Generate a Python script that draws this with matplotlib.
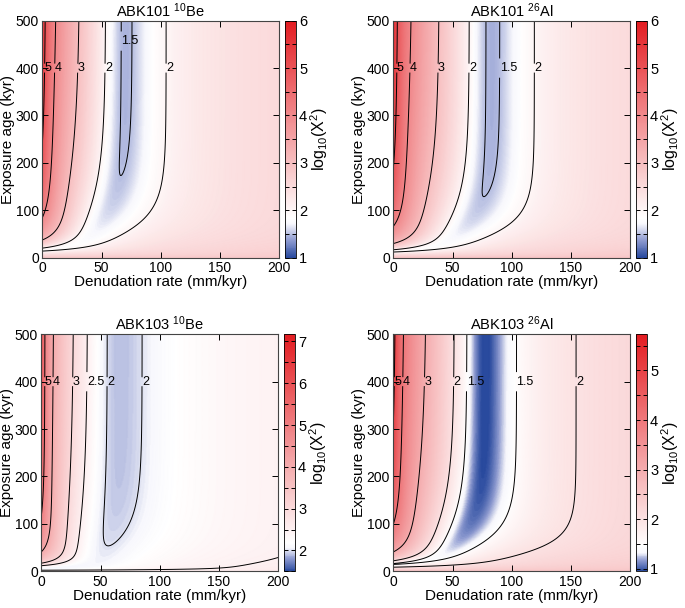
import numpy as np
import matplotlib
matplotlib.use('Agg')
import matplotlib.pyplot as plt
from matplotlib.colors import LinearSegmentedColormap
from matplotlib.ticker import MultipleLocator

plt.rcParams['font.family'] = ['Liberation Sans', 'DejaVu Sans']
plt.rcParams['mathtext.fontset'] = 'custom'
plt.rcParams['mathtext.rm'] = 'Liberation Sans'
plt.rcParams['mathtext.it'] = 'Liberation Sans:italic'

# --- sample data / model parameters for each panel ---
titles = ['ABK101 $^{10}$Be', 'ABK101 $^{26}$Al', 'ABK103 $^{10}$Be', 'ABK103 $^{26}$Al']
half_life = [1387.0, 705.0, 1387.0, 705.0]      # kyr
prod_rate = [4.0, 27.0, 4.0, 27.0]              # atoms/g/yr at surface
muon_frac = [0.13, 0.13, 0.03, 0.13]
spall_len = [604.0, 604.0, 340.0, 604.0]        # mm
muon_len = 5660.0                               # mm
depths = [[0, 3000], [0, 3000], [0, 3000], [0, 3000]]               # mm
conc = [[67.0, 50.9], [380.0, 277.6], [28.0, 28.2], [407.7, 263.8]]   # 10^3 atoms/g
conc_err = [[2.64, 5.14], [13.5, 27.9], [1.35, 2.53], [21.5, 42.0]]

levels = [[1.5, 2, 3, 4, 5], [1.5, 2, 3, 4, 5], [2, 2.5, 3, 4, 5], [1.5, 2, 3, 4, 5]]
label_eps = [[2.5, 11, 27, 50, 62, 108],
             [3.4, 14.7, 37, 62, 93, 122],
             [3, 10, 27.5, 39, 56.5, 80],
             [2.5, 10, 28, 53, 65, 109, 161]]
label_age = [[400, 400, 400, 400, 457, 400], [400] * 6, [400] * 6, [400] * 7]

clims = [(1.0, 6.0), (1.0, 6.0), (1.5, 7.17), (0.95, 5.73)]
white_at = [1.8, 1.8, 2.15, 1.42]

eps = np.linspace(0, 200, 401)
age = np.linspace(0, 500, 501)
E, T = np.meshgrid(eps, age)


def predicted(P, lam, f, Ls, z):
    out = 0.0
    for frac, L in ((1 - f, Ls), (f, muon_len)):
        k = lam + E / L
        out = out + P * frac * np.exp(-z / L) * (1 - np.exp(-k * T)) / k
    return out


def make_cmap(vmin, vmax, c):
    def pos(v):
        return (v - vmin) / (vmax - vmin)
    nodes = [(0.0, (0.16, 0.29, 0.62)),
             (pos(vmin + 0.45 * (c - vmin)), (0.56, 0.61, 0.82)),
             (pos(c - 0.1), (0.97, 0.97, 0.99)),
             (pos(c + 0.03), (1.0, 1.0, 1.0)),
             (1.0, (0.89, 0.11, 0.13))]
    return LinearSegmentedColormap.from_list('bwr_custom', nodes)


W, H = 685.0, 608.0
ax_px = [(42.3, 20.7), (393.3, 20.7), (41.3, 334.3), (393.3, 334.3)]
size = 237.0

fig = plt.figure(figsize=(6.85, 6.08), dpi=100)

for i in range(4):
    lam = np.log(2) / half_life[i]
    chi2 = np.zeros_like(E)
    for z, n, s in zip(depths[i], conc[i], conc_err[i]):
        npred = predicted(prod_rate[i], lam, muon_frac[i], spall_len[i], z)
        chi2 += ((n - npred) / s) ** 2
    logx = np.log10(chi2)

    l, t = ax_px[i]
    ax = fig.add_axes([l / W, 1 - (t + size) / H, size / W, size / H])
    cax = fig.add_axes([(l + size + 6) / W, 1 - (t + size) / H, 11 / W, size / H])

    vmin, vmax = clims[i]
    mesh = ax.pcolormesh(E, T, logx, cmap=make_cmap(vmin, vmax, white_at[i]),
                         vmin=vmin, vmax=vmax, shading='gouraud', rasterized=True)
    cs = ax.contour(E, T, logx, levels=levels[i], colors='k', linewidths=0.7)
    lbls = ax.clabel(cs, fmt='%g', fontsize=9, inline=True, inline_spacing=1,
                     manual=list(zip(label_eps[i], label_age[i])))
    for txt in lbls:
        txt.set_rotation(0)
        txt.set_ha('left')
        txt.set_va('center')

    ax.set_xlim(0, 200)
    ax.set_ylim(0, 500)
    ax.set_xticks([0, 50, 100, 150, 200])
    ax.set_yticks([0, 100, 200, 300, 400, 500])
    ax.tick_params(direction='in', top=True, right=True, length=4, width=0.7,
                   labelsize=10, pad=2.5)
    for sp in ax.spines.values():
        sp.set_linewidth(0.8)
        sp.set_color('#444444')
    ax.set_xlabel('Denudation rate (mm/kyr)', fontsize=11, labelpad=0)
    ax.set_ylabel('Exposure age (kyr)', fontsize=11, labelpad=0)
    ax.set_title(titles[i], fontsize=10.5, pad=3)

    cb = fig.colorbar(mesh, cax=cax)
    cb.set_ticks(np.arange(np.ceil(vmin), np.floor(vmax) + 1))
    cax.yaxis.set_minor_locator(MultipleLocator(0.5))
    cax.tick_params(which='both', direction='in', left=True, right=True,
                    length=3, width=0.7, labelsize=10.5, pad=2)
    cb.outline.set_linewidth(0.6)
    cb.set_label(r'log$_{10}$(X$^{2}$)', fontsize=11.5, labelpad=1)

fig.savefig('out.png', dpi=100)
